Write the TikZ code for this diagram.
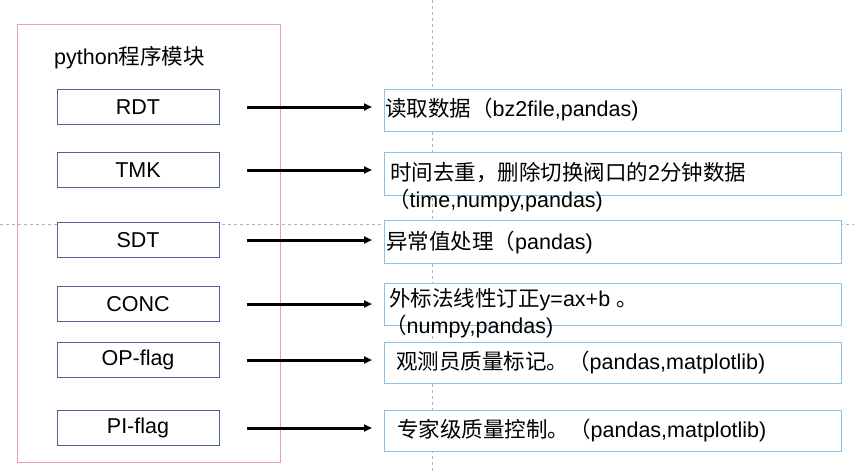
\documentclass[tikz,border=0pt]{standalone}
\usepackage{fontspec}
\setmainfont{Liberation Sans}
\newfontfamily\cjk{Noto Sans CJK SC}
\usetikzlibrary{arrows.meta}
\definecolor{lb}{RGB}{80,100,150}
\definecolor{rb}{RGB}{140,195,225}
\definecolor{pk}{RGB}{235,160,175}
\begin{document}
\begin{tikzpicture}[x=1pt,y=-1pt,
  lbox/.style={draw=lb,line width=0.7pt,fill=white,minimum width=162pt,minimum height=35pt,font=\fontsize{21.5}{23}\selectfont},
  rbox/.style={draw=rb,line width=0.8pt,fill=white,minimum width=457pt,minimum height=42pt},
  txt/.style={anchor=west,font=\fontsize{21.5}{23}\selectfont,inner sep=0pt},
  arr/.style={-{Triangle[length=8pt,width=7pt]},line width=3pt}]
\fill[white] (0,0) rectangle (854,471);
\useasboundingbox (0,0) rectangle (854,471);
\draw[gray!60,dashed,thin] (432,0) -- (432,471);
\draw[gray!60,dashed,thin] (0,224) -- (854,224);
\draw[pk,line width=0.8pt] (17,24) rectangle (280,462);
\node[txt] (title) at (54,58) {python{\cjk 程序模块}};
\foreach \n/\t/\y/\ry/\rh in {a/RDT/107/110/42, b/TMK/170/174/43, c/SDT/240/242/43, d/CONC/304/304/42, e/OP-flag/360/363/41, f/PI-flag/428/431/41}{
  \node[lbox] (l\n) at (138,\y) {\t};
  \node[rbox,minimum height=\rh pt] (r\n) at (612.5,\ry) {};
  \coordinate (s\n) at (247,\y);
  \coordinate (e\n) at (372,\y);
  \draw[arr] (s\n) -- (e\n);
}
\node[txt] (ta) at (385,110) {{\cjk 读取数据（}bz2file,pandas)};
\node[txt] (tb) at (390,173) {{\cjk 时间去重，删除切换阀口的}2{\cjk 分钟数据}};
\node[txt] (tb2) at (388,201) {{\cjk （}time,numpy,pandas)};
\node[txt] (tc) at (386,243) {{\cjk 异常值处理（}pandas)};
\node[txt] (td) at (389,300) {{\cjk 外标法线性订正}y=ax+b {\cjk 。}};
\node[txt] (td2) at (385,327) {{\cjk （}numpy,pandas)};
\node[txt] (te) at (396,363) {{\cjk 观测员质量标记。（}pandas,matplotlib)};
\node[txt] (tf) at (397,431) {{\cjk 专家级质量控制。（}pandas,matplotlib)};
\end{tikzpicture}
\end{document}
